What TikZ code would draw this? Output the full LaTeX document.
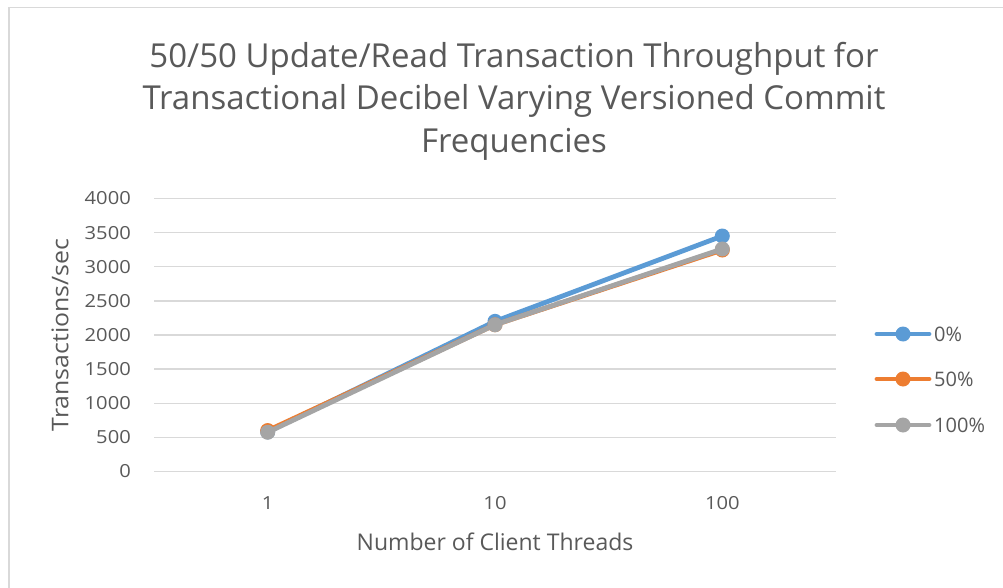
\documentclass[tikz,border=0pt]{standalone}
\usepackage{fontspec}
\setmainfont{Open Sans}
\definecolor{txt}{HTML}{595959}
\definecolor{grid}{HTML}{D9D9D9}
\definecolor{sblue}{HTML}{5B9BD5}
\definecolor{sorange}{HTML}{ED7D31}
\definecolor{sgray}{HTML}{A5A5A5}
\newcommand{\wideT}[2]{\scalebox{#1}[1]{#2}}
\tikzset{
  gridline/.style={draw=grid, line width=1.3pt},
  series/.style={line width=4.8pt, line cap=round, line join=round},
  dot/.style={circle, inner sep=0pt, minimum size=15pt},
  ticklab/.style={text=txt, font=\fontsize{18}{21}\selectfont, inner sep=0pt},
  legtxt/.style={text=txt, font=\fontsize{20}{23}\selectfont, inner sep=0pt, anchor=west},
}
\begin{document}
\begin{tikzpicture}[x=1pt,y={(0pt,-1pt)}]
\useasboundingbox (0,0) rectangle (1003,588);
\fill[white] (0,0) rectangle (1003,588);
\draw[draw=grid, line width=1.3pt] (9,588) -- (9,7.5) -- (1003,7.5);
% title
\node[text=txt, font=\fontsize{33}{42.5}\selectfont, align=center, inner sep=0pt] (title) at (514,101)
  {50/50 Update/Read Transaction Throughput for\\Transactional Decibel Varying Versioned Commit\\Frequencies};
% gridlines and tick labels
\foreach \v [count=\i] in {0,500,...,4000} {
  \coordinate (gl\i) at (154,{471.5-\v*0.06825});
  \coordinate (gr\i) at (836,{471.5-\v*0.06825});
  \draw[gridline] (gl\i) -- (gr\i);
  \node[ticklab, anchor=east] (tl\i) at (131,{471.5-\v*0.06825}) {\wideT{1.12}{\v}};
}
% category labels
\node[ticklab] (c1) at (267.7,503) {\wideT{1.12}{1}};
\node[ticklab] (c2) at (495,503) {\wideT{1.12}{10}};
\node[ticklab] (c3) at (722.3,503) {\wideT{1.12}{100}};
% axis titles
\node[text=txt, font=\fontsize{23}{26}\selectfont, inner sep=0pt] (xt) at (495,542) {Number of Client Threads};
\node[text=txt, font=\fontsize{23}{26}\selectfont, inner sep=0pt, rotate=90] (yt) at (60,335) {\wideT{1.08}{Transactions/sec}};
% data points
\coordinate (a1) at (267.7,{471.5-580*0.06825});
\coordinate (a2) at (495,{471.5-2200*0.06825});
\coordinate (a3) at (722.3,{471.5-3450*0.06825});
\coordinate (b1) at (267.7,{471.5-600*0.06825});
\coordinate (b2) at (495,{471.5-2150*0.06825});
\coordinate (b3) at (722.3,{471.5-3245*0.06825});
\coordinate (d1) at (267.7,{471.5-575*0.06825});
\coordinate (d2) at (495,{471.5-2150*0.06825});
\coordinate (d3) at (722.3,{471.5-3260*0.06825});
\draw[series, sblue] (a1) -- (a2) -- (a3);
\foreach \p in {a1,a2,a3} \node[dot, fill=sblue] at (\p) {};
\draw[series, sorange] (b1) -- (b2) -- (b3);
\foreach \p in {b1,b2,b3} \node[dot, fill=sorange] at (\p) {};
\draw[series, sgray] (d1) -- (d2) -- (d3);
\foreach \p in {d1,d2,d3} \node[dot, fill=sgray] at (\p) {};
% legend
\coordinate (l1a) at (877,334); \coordinate (l1b) at (929,334);
\coordinate (l2a) at (877,379); \coordinate (l2b) at (929,379);
\coordinate (l3a) at (877,425); \coordinate (l3b) at (929,425);
\draw[series, sblue] (l1a) -- (l1b);
\node[dot, fill=sblue] (m1) at (903,334) {};
\draw[series, sorange] (l2a) -- (l2b);
\node[dot, fill=sorange] (m2) at (903,379) {};
\draw[series, sgray] (l3a) -- (l3b);
\node[dot, fill=sgray] (m3) at (903,425) {};
\node[legtxt] (t1) at (934,334) {0\%};
\node[legtxt] (t2) at (934,379) {50\%};
\node[legtxt] (t3) at (934,425) {100\%};
\end{tikzpicture}
\end{document}
